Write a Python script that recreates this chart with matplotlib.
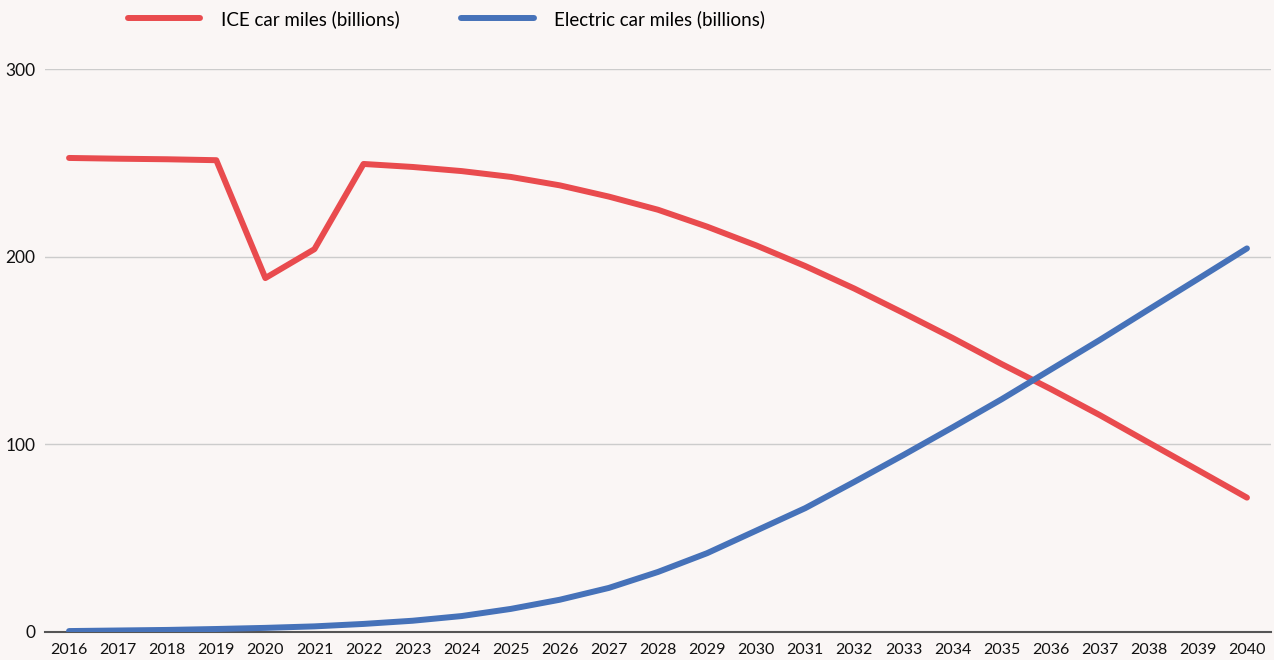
import matplotlib
matplotlib.use('Agg')

import matplotlib.pyplot as plt

years = list(range(2016, 2041))
ice_miles = [252.6, 252.2, 251.9, 251.4, 188.6, 204.0, 249.4, 247.8, 245.6, 242.5,
             238.0, 232.0, 225.0, 216.0, 206.0, 195.0, 183.0, 170.0, 156.7, 142.8,
             129.5, 115.6, 100.9, 86.3, 71.6]
ev_miles = [0.5, 0.8, 1.1, 1.6, 2.2, 3.0, 4.3, 6.0, 8.5, 12.3,
            17.2, 23.5, 32.0, 42.0, 54.0, 66.0, 80.0, 94.3, 109.0, 124.0,
            139.8, 155.6, 171.9, 188.1, 204.4]
y_ticks = [0, 100, 200, 300]

bg = '#faf6f5'
plt.rcParams['font.family'] = ['Lato', 'DejaVu Sans']

fig = plt.figure(figsize=(12.74, 6.6), dpi=100, facecolor=bg)
ax = fig.add_axes([45 / 1274, 1 - 632 / 660, 1226 / 1274, (632 - 69) / 660])
ax.set_facecolor(bg)

ax.plot(years, ice_miles, color='#e94b4e', lw=4.3, solid_capstyle='round',
        solid_joinstyle='round', label='ICE car miles (billions)', zorder=3)
ax.plot(years, ev_miles, color='#4672b9', lw=4.3, solid_capstyle='round',
        solid_joinstyle='round', label='Electric car miles (billions)', zorder=3)

ax.set_xlim(2015.51, 2040.49)
ax.set_ylim(0, 300)
ax.set_xticks(years)
ax.set_yticks(y_ticks)
ax.tick_params(axis='both', length=0, labelsize=11.5, colors='#111111')
ax.tick_params(axis='x', pad=8)
ax.tick_params(axis='y', labelsize=12.5, pad=7)
ax.grid(axis='y', color='#cccccc', lw=1)
ax.set_axisbelow(True)
for s in ['top', 'right', 'left']:
    ax.spines[s].set_visible(False)
ax.spines['bottom'].set_color('#555555')
ax.spines['bottom'].set_linewidth(1.5)
ax.spines['bottom'].set_zorder(2)

leg = ax.legend(loc='center left', bbox_to_anchor=(83 / 1226, 1 + 50 / 563), ncol=2,
                frameon=False, fontsize=13.5, handlelength=3.85, handletextpad=1.1,
                columnspacing=3.3, borderaxespad=0, borderpad=0)

fig.savefig('out.png', dpi=100, facecolor=bg)
plt.close()
